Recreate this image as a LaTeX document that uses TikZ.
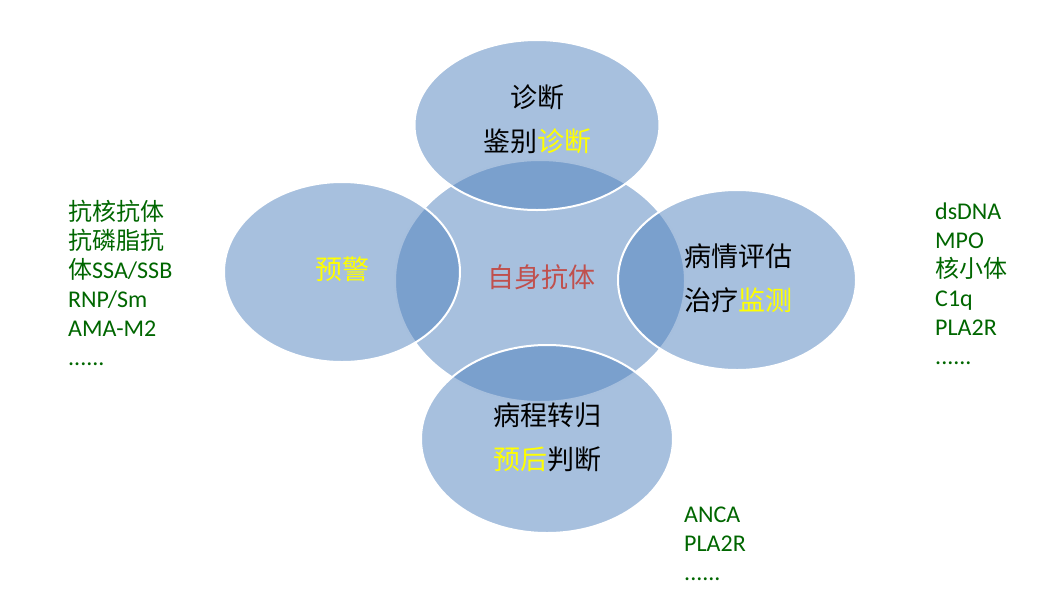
\documentclass[tikz,border=0pt]{standalone}
\usepackage{fontspec}
\setmainfont{Carlito}
\newfontfamily\cjk{Noto Sans CJK SC}
\usepackage{tikz}
\usetikzlibrary{shapes.geometric}
\usepackage{xcolor}
\definecolor{bubbleblue}{RGB}{79,129,189}
\definecolor{coretext}{RGB}{192,80,77}
\definecolor{marktext}{RGB}{255,255,0}
\definecolor{listgreen}{RGB}{0,102,0}

\begin{document}
\begin{tikzpicture}[x=1pt,y=-1pt,
  bubble/.style={ellipse,inner sep=0pt,fill=bubbleblue,fill opacity=0.5,draw=white,line width=2pt},
  incircle/.style={align=center,inner sep=0pt,font=\cjk\fontsize{27}{44}\selectfont},
  abtlist/.style={align=left,anchor=north west,inner sep=0pt,text=listgreen,font=\fontsize{24}{29}\selectfont}]
\useasboundingbox (0,0) rectangle (1055,595);
% the middle ellipse goes first, the four round it overlap it
\node[bubble,minimum width=290pt,minimum height=242pt] (core) at (540,281) {};
\node[bubble,minimum width=245pt,minimum height=170pt] (diag) at (537,125) {};
\node[bubble,minimum width=236pt,minimum height=180pt] (warn) at (342,272) {};
\node[bubble,minimum width=238pt,minimum height=180pt] (eval) at (737,280) {};
\node[bubble,minimum width=252pt,minimum height=188pt] (prog) at (547,439) {};
% texts in the ellipses
\node[incircle,text=coretext] (coretxt) at (541,277) {自身抗体};
\node[incircle] (diagtxt) at (537,119) {诊断\\鉴别\textcolor{marktext}{诊断}};
\node[incircle,text=marktext] (warntxt) at (342,269) {预警};
\node[incircle] (evaltxt) at (738,278) {病情评估\\治疗\textcolor{marktext}{监测}};
\node[incircle] (progtxt) at (547,437) {病程转归\\\textcolor{marktext}{预后}判断};
% antibody lists
\node[abtlist] (warnlist) at (68,200) {{\cjk 抗核抗体}\\{\cjk 抗磷脂抗}\\{\cjk 体}SSA/SSB\\RNP/Sm\\AMA-M2\\......};
\node[abtlist] (evallist) at (935,203) {dsDNA\\MPO\\{\cjk 核小体}\\C1q\\PLA2R\\......};
\node[abtlist] (proglist) at (684,507) {ANCA\\PLA2R\\......};
\end{tikzpicture}
\end{document}
